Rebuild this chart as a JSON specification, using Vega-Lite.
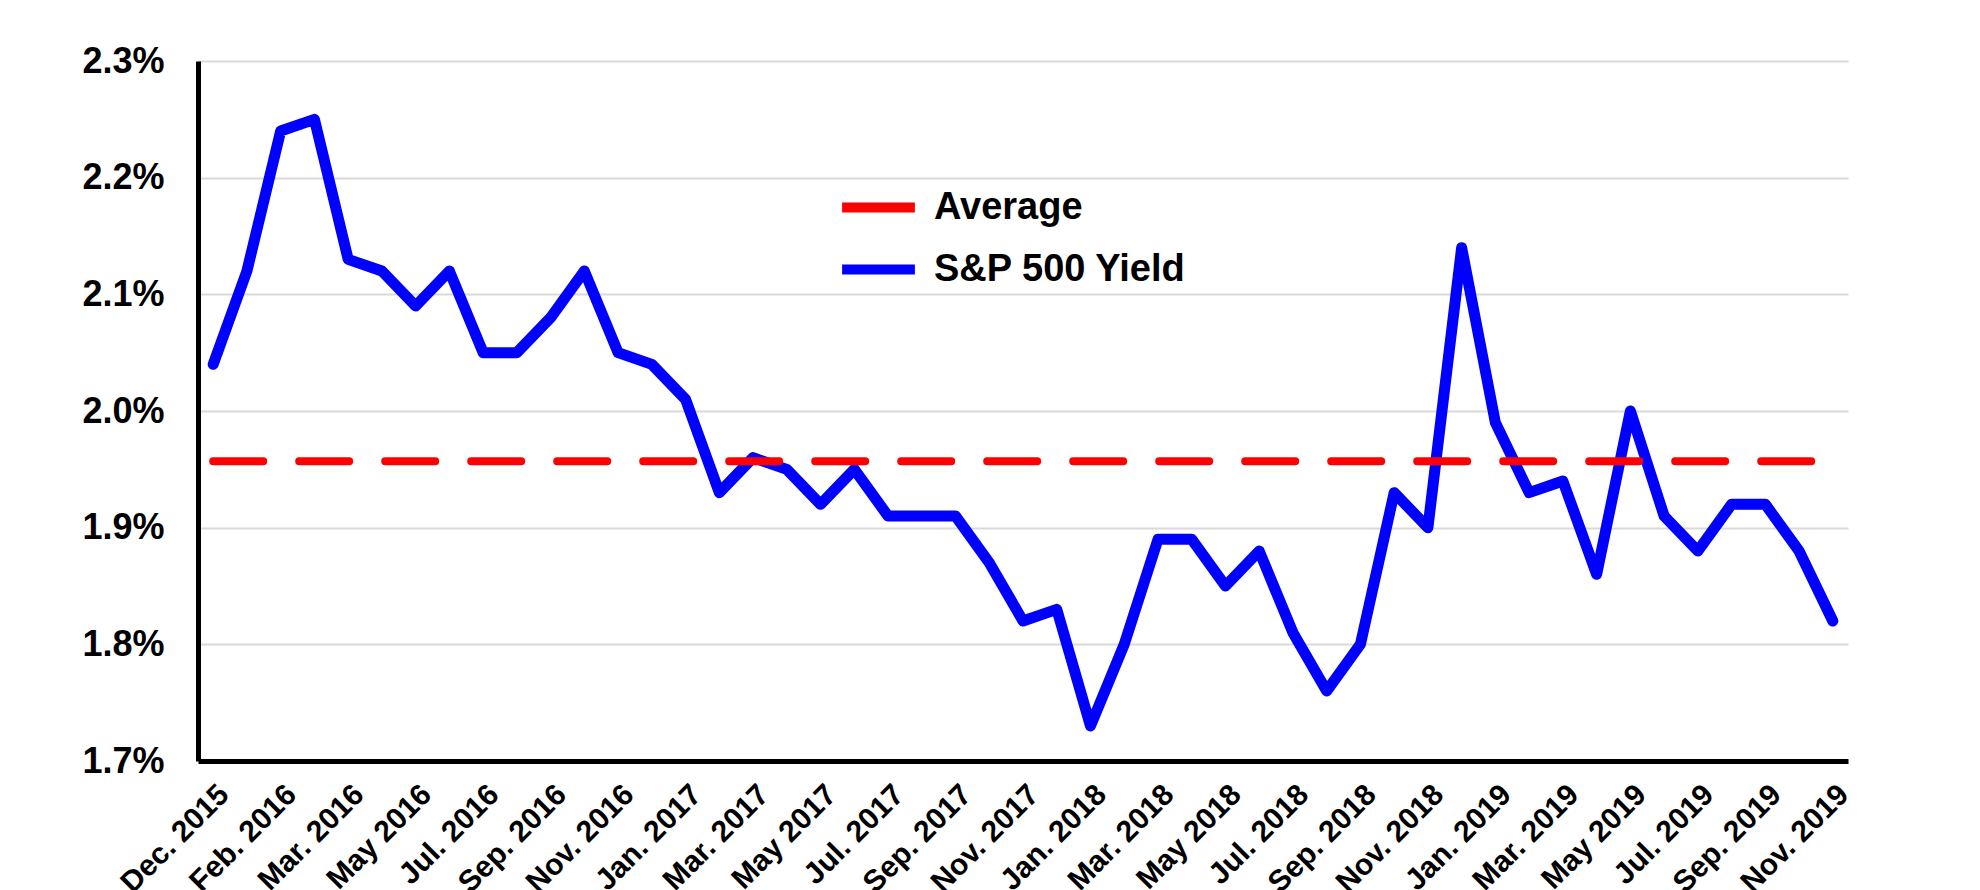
{
  "$schema": "https://vega.github.io/schema/vega-lite/v6.json",
  "width": 1650,
  "height": 700,
  "autosize": {"type": "none"},
  "padding": {"left": 198, "top": 61, "right": 132, "bottom": 129},
  "background": "white",
  "config": {
    "view": {"stroke": null},
    "font": "Liberation Sans",
    "legend": {"padding": 0}
  },
  "layer": [
    {
      "data": {"values": [
        {"month": "Dec. 2015", "yield": 2.04, "series": "S&P 500 Yield"},
        {"month": "Jan. 2016", "yield": 2.12, "series": "S&P 500 Yield"},
        {"month": "Feb. 2016", "yield": 2.24, "series": "S&P 500 Yield"},
        {"month": "Feb./Mar. 2016", "yield": 2.25, "series": "S&P 500 Yield"},
        {"month": "Mar. 2016", "yield": 2.13, "series": "S&P 500 Yield"},
        {"month": "Apr. 2016", "yield": 2.12, "series": "S&P 500 Yield"},
        {"month": "May 2016", "yield": 2.09, "series": "S&P 500 Yield"},
        {"month": "Jun. 2016", "yield": 2.12, "series": "S&P 500 Yield"},
        {"month": "Jul. 2016", "yield": 2.05, "series": "S&P 500 Yield"},
        {"month": "Aug. 2016", "yield": 2.05, "series": "S&P 500 Yield"},
        {"month": "Sep. 2016", "yield": 2.08, "series": "S&P 500 Yield"},
        {"month": "Oct. 2016", "yield": 2.12, "series": "S&P 500 Yield"},
        {"month": "Nov. 2016", "yield": 2.05, "series": "S&P 500 Yield"},
        {"month": "Dec. 2016", "yield": 2.04, "series": "S&P 500 Yield"},
        {"month": "Jan. 2017", "yield": 2.01, "series": "S&P 500 Yield"},
        {"month": "Feb. 2017", "yield": 1.93, "series": "S&P 500 Yield"},
        {"month": "Mar. 2017", "yield": 1.96, "series": "S&P 500 Yield"},
        {"month": "Apr. 2017", "yield": 1.95, "series": "S&P 500 Yield"},
        {"month": "May 2017", "yield": 1.92, "series": "S&P 500 Yield"},
        {"month": "Jun. 2017", "yield": 1.95, "series": "S&P 500 Yield"},
        {"month": "Jul. 2017", "yield": 1.91, "series": "S&P 500 Yield"},
        {"month": "Aug. 2017", "yield": 1.91, "series": "S&P 500 Yield"},
        {"month": "Sep. 2017", "yield": 1.91, "series": "S&P 500 Yield"},
        {"month": "Oct. 2017", "yield": 1.87, "series": "S&P 500 Yield"},
        {"month": "Nov. 2017", "yield": 1.82, "series": "S&P 500 Yield"},
        {"month": "Dec. 2017", "yield": 1.83, "series": "S&P 500 Yield"},
        {"month": "Jan. 2018", "yield": 1.73, "series": "S&P 500 Yield"},
        {"month": "Feb. 2018", "yield": 1.80, "series": "S&P 500 Yield"},
        {"month": "Mar. 2018", "yield": 1.89, "series": "S&P 500 Yield"},
        {"month": "Apr. 2018", "yield": 1.89, "series": "S&P 500 Yield"},
        {"month": "May 2018", "yield": 1.85, "series": "S&P 500 Yield"},
        {"month": "Jun. 2018", "yield": 1.88, "series": "S&P 500 Yield"},
        {"month": "Jul. 2018", "yield": 1.81, "series": "S&P 500 Yield"},
        {"month": "Aug. 2018", "yield": 1.76, "series": "S&P 500 Yield"},
        {"month": "Sep. 2018", "yield": 1.80, "series": "S&P 500 Yield"},
        {"month": "Oct. 2018", "yield": 1.93, "series": "S&P 500 Yield"},
        {"month": "Nov. 2018", "yield": 1.90, "series": "S&P 500 Yield"},
        {"month": "Dec. 2018", "yield": 2.14, "series": "S&P 500 Yield"},
        {"month": "Jan. 2019", "yield": 1.99, "series": "S&P 500 Yield"},
        {"month": "Feb. 2019", "yield": 1.93, "series": "S&P 500 Yield"},
        {"month": "Mar. 2019", "yield": 1.94, "series": "S&P 500 Yield"},
        {"month": "Apr. 2019", "yield": 1.86, "series": "S&P 500 Yield"},
        {"month": "May 2019", "yield": 2.00, "series": "S&P 500 Yield"},
        {"month": "Jun. 2019", "yield": 1.91, "series": "S&P 500 Yield"},
        {"month": "Jul. 2019", "yield": 1.88, "series": "S&P 500 Yield"},
        {"month": "Aug. 2019", "yield": 1.92, "series": "S&P 500 Yield"},
        {"month": "Sep. 2019", "yield": 1.92, "series": "S&P 500 Yield"},
        {"month": "Oct. 2019", "yield": 1.88, "series": "S&P 500 Yield"},
        {"month": "Nov. 2019", "yield": 1.82, "series": "S&P 500 Yield"}
      ]},
      "mark": {"type": "line", "strokeWidth": 11, "strokeJoin": "round", "strokeCap": "round"},
      "encoding": {
        "x": {
          "field": "month",
          "type": "ordinal",
          "sort": null,
          "scale": {"type": "point", "padding": 0.45},
          "axis": {
            "title": null,
            "values": ["Dec. 2015", "Feb. 2016", "Mar. 2016", "May 2016", "Jul. 2016", "Sep. 2016", "Nov. 2016", "Jan. 2017", "Mar. 2017", "May 2017", "Jul. 2017", "Sep. 2017", "Nov. 2017", "Jan. 2018", "Mar. 2018", "May 2018", "Jul. 2018", "Sep. 2018", "Nov. 2018", "Jan. 2019", "Mar. 2019", "May 2019", "Jul. 2019", "Sep. 2019", "Nov. 2019"],
            "labelAngle": -45,
            "labelFontSize": 30,
            "labelFontWeight": "bold",
            "labelColor": "black",
            "labelPadding": 18,
            "labelDx": -11,
            "labelDy": -3,
            "labelOverlap": false,
            "labelBound": false,
            "ticks": false,
            "grid": false,
            "domainColor": "black",
            "domainWidth": 5
          }
        },
        "y": {
          "field": "yield",
          "type": "quantitative",
          "scale": {"domain": [1.7, 2.3], "nice": false, "zero": false},
          "axis": {
            "title": null,
            "values": [1.7, 1.8, 1.9, 2.0, 2.1, 2.2, 2.3],
            "labelExpr": "format(datum.value, '.1f') + '%'",
            "labelFontSize": 36,
            "labelFontWeight": "bold",
            "labelColor": "black",
            "labelPadding": 34,
            "ticks": false,
            "grid": true,
            "gridColor": "#d9d9d9",
            "gridWidth": 2,
            "domainColor": "black",
            "domainWidth": 5
          }
        },
        "color": {
          "field": "series",
          "type": "nominal",
          "scale": {"domain": ["Average", "S&P 500 Yield"], "range": ["#ff0000", "#0000ff"]},
          "legend": {
            "title": null,
            "orient": "none",
            "legendX": 639,
            "legendY": 105,
            "symbolType": "stroke",
            "symbolSize": 5300,
            "symbolStrokeWidth": 10,
            "labelFontSize": 38,
            "labelFontWeight": "bold",
            "labelColor": "black",
            "labelOffset": 14,
            "labelLimit": 500,
            "rowPadding": -8
          }
        }
      }
    },
    {
      "data": {"values": [{"series": "Average", "avg": 1.957}]},
      "mark": {"type": "rule", "strokeWidth": 8, "strokeDash": [50, 36], "strokeCap": "round"},
      "encoding": {
        "x": {"datum": "Dec. 2015"},
        "x2": {"datum": "Nov. 2019"},
        "y": {"field": "avg", "type": "quantitative"},
        "color": {"field": "series", "type": "nominal"}
      }
    }
  ]
}
